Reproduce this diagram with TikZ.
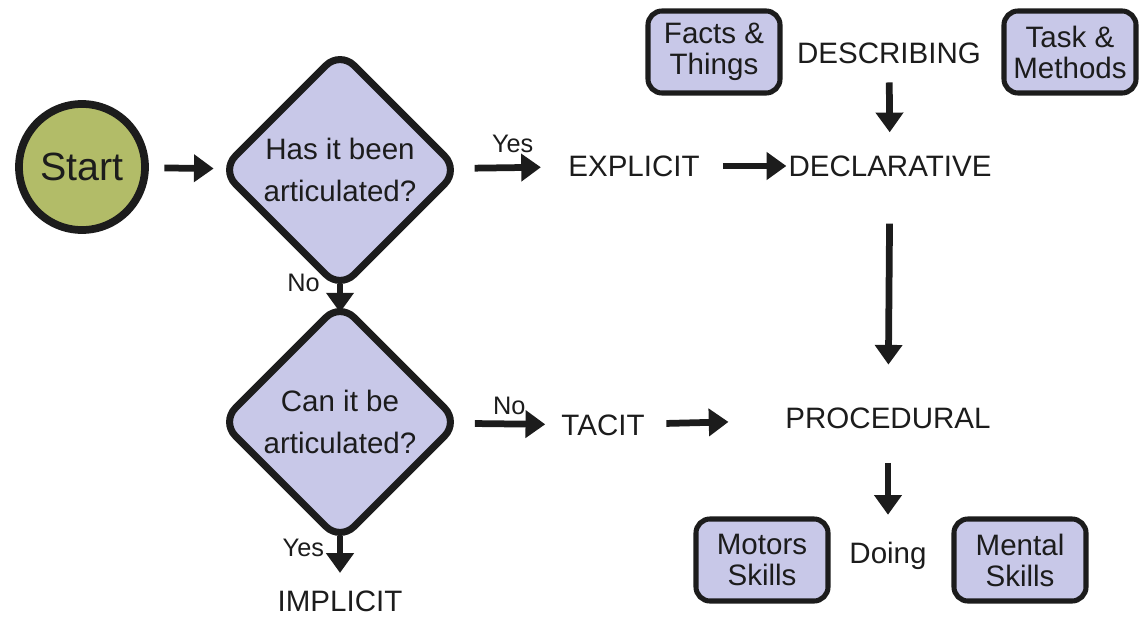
\documentclass[tikz,border=0pt]{standalone}
\usepackage{fontspec}
\setmainfont{Liberation Sans}
\usetikzlibrary{arrows.meta,shapes.geometric,positioning}

\definecolor{startgreen}{RGB}{178,188,104}
\definecolor{boxlilac}{RGB}{200,200,232}
\definecolor{inkgrey}{RGB}{28,28,28}

\begin{document}
\begin{tikzpicture}[x=0.025cm, y=-0.025cm, >={Triangle[length=14pt,width=19pt]},
                    every node/.style={text=inkgrey, font=\fontsize{21}{24}\selectfont},
                    startnode/.style={circle, draw=inkgrey, line width=5.5pt, fill=startgreen,
                                      minimum size=3.15cm, font=\fontsize{28}{30}\selectfont},
                    question/.style={diamond, draw=inkgrey, line width=5pt, fill=boxlilac,
                                     rounded corners=14pt, minimum width=6cm, minimum height=6cm,
                                     inner sep=-6pt, align=center, font=\fontsize{21}{30}\selectfont},
                    kindbox/.style={rectangle, draw=inkgrey, line width=3.6pt, fill=boxlilac,
                                    rounded corners=10pt, minimum width=3.3cm, minimum height=2.05cm,
                                    inner sep=2pt, align=center, font=\fontsize{21}{22}\selectfont},
                    flow/.style={draw=inkgrey, line width=4.8pt},
                    answer/.style={font=\fontsize{18}{20}\selectfont, inner sep=1pt}]

\useasboundingbox (0,0) rectangle (1139,618);

\node[startnode] (start) at (82,167) {Start};
\node[question] (articulated) at (340,170) {Has it been\\articulated?};
\node[question] (canbe) at (340,422) {Can it be\\articulated?};
\node (implicit) at (340,601) {IMPLICIT};
\node (explicit) at (634,166) {EXPLICIT};
\node (declarative) at (890,166) {DECLARATIVE};
\node (describing) at (889,53) {DESCRIBING};
\node (tacit) at (603,425) {TACIT};
\node (procedural) at (888,418) {PROCEDURAL};
\node (doing) at (888,556) {Doing};

\node[kindbox] (facts) at (714,52) {Facts \&\\Things};
\node[kindbox] (tasks) at (1070,52) {Task \&\\Methods};
\node[kindbox] (motor) at (762,560) {Motors\\Skills};
\node[kindbox] (mental) at (1020,560) {Mental\\Skills};

\path[->]
(start) edge [flow, shorten <=11pt, shorten >=3pt] (articulated)
(articulated) edge [flow, shorten <=9pt, shorten >=16pt] node[answer, above=7pt] {Yes} (explicit)
(articulated) edge [flow, shorten <=-7pt, shorten >=-10pt]
              node[answer, pos=0, anchor=south east, xshift=-11pt, yshift=-2pt] {No} (canbe)
(canbe) edge [flow, shorten <=-7pt, shorten >=9pt]
        node[answer, pos=0.05, anchor=east, xshift=-8pt] {Yes} (implicit)
(canbe) edge [flow, shorten <=9pt, shorten >=8pt] node[answer, above=3pt] {No} (tacit)
(explicit) edge [flow, shorten <=13pt, shorten >=-2pt] (declarative)
(describing) edge [flow, shorten <=10pt, shorten >=13pt] (declarative)
(declarative) edge [flow, shorten <=30pt, shorten >=27pt] (procedural)
(tacit) edge [flow, shorten <=12pt, shorten >=37pt] (procedural)
(procedural) edge [flow, shorten <=21pt, shorten >=16pt] (doing);
\end{tikzpicture}
\end{document}
